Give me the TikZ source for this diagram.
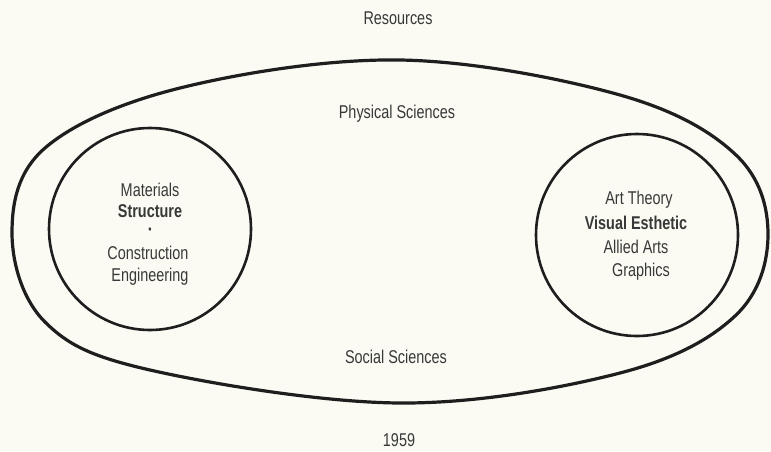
\documentclass[tikz,border=0pt]{standalone}
\usepackage{fontspec}
\setmainfont{Liberation Sans}[FakeStretch=0.78]
\usetikzlibrary{positioning}
\definecolor{ink}{HTML}{1E1E1E}
\definecolor{txt}{HTML}{383838}
\definecolor{paper}{HTML}{FBFBF4}
\tikzset{
  field/.style={circle, draw=ink, line width=2.6pt, minimum size=202pt, inner sep=0pt},
  rim/.style={draw=ink, line width=3.2pt},
  lbl/.style={text=txt, inner sep=0pt, font=\fontsize{18.5}{20}\selectfont},
  blbl/.style={lbl, font=\fontsize{18.5}{20}\selectfont\bfseries},
  pip/.style={lbl, font=\fontsize{12}{12}\selectfont},
}

\begin{document}
\begin{tikzpicture}[x=1pt,y=-1pt]
  \fill[paper] (0,0) rectangle (771,451);
  % outer field
  \draw[rim] plot[smooth cycle, tension=0.6] coordinates {
    (12,233) (45,322) (150,370) (400,403) (620,373) (735,316) (768,235)
    (736,155) (620,95) (400,60) (180,88) (45,148)};
  \node[field] (left) at (150,229) {};
  \node[field] (right) at (637,235) {};
  \node[lbl] (res) at (398,18) {Resources};
  \node[lbl] (phys) at (397,114) {Physical Sciences};
  \node[lbl] (soc) at (396,357) {Social Sciences};
  \node[lbl] (year) at (399,440) {1959};
  % left
  \node[lbl] (mat) at (150,190) {Materials};
  \node[blbl] (struct) at (150,211) {Structure};
  \node[pip] (dot) at (150,231) {\textbullet};
  \node[lbl] (cons) at (148,253) {Construction};
  \node[lbl] (eng) at (150,277) {Engineering};
  % right
  \node[lbl] (theory) at (639,200) {Art Theory};
  \node[blbl] (vis) at (636,223) {Visual Esthetic};
  \node[lbl] (allied) at (636,247) {Allied Arts};
  \node[lbl] (graph) at (641,272) {Graphics};
\end{tikzpicture}
\end{document}
